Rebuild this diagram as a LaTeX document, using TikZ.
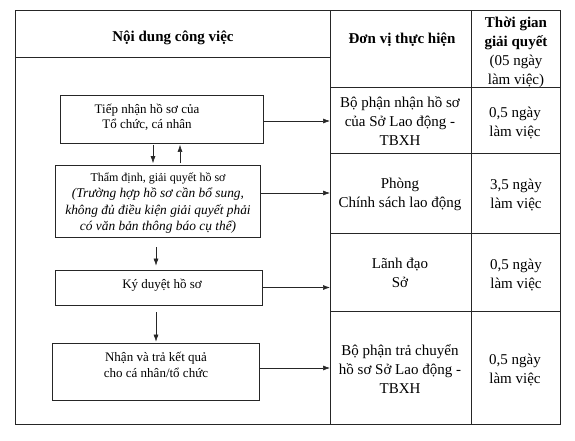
\documentclass[tikz,border=0pt]{standalone}
\usepackage{fontspec}
\setmainfont{Liberation Serif}
\usetikzlibrary{arrows.meta}
\begin{document}
\begin{tikzpicture}[x=1pt,y=-1pt,
  grid/.style={draw=black!85, line width=0.7pt},
  box/.style={draw=black!85, line width=0.7pt, rectangle, inner sep=0pt},
  arr/.style={draw=black!85, line width=0.6pt, -{Latex[length=7pt,width=5pt]}},
  head/.style={align=center, inner sep=0pt, font=\fontsize{15}{19}\selectfont\bfseries},
  cell/.style={align=center, inner sep=0pt, font=\fontsize{15}{19}\selectfont},
  btext/.style={align=center, inner sep=0pt, font=\fontsize{13}{15.5}\selectfont}]
\useasboundingbox (0,0) rectangle (575,440);
\fill[white] (0,0) rectangle (575,440);

% table grid
\draw[grid] (15,10) rectangle (560,424);
\draw[grid] (330,10) -- (330,424);
\draw[grid] (471,10) -- (471,424);
\draw[grid] (15,57) -- (330,57);
\draw[grid] (330,87) -- (560,87);
\draw[grid] (330,153) -- (560,153);
\draw[grid] (330,233) -- (560,233);
\draw[grid] (330,311) -- (560,311);

% headers
\node[head] (h1) at (173,38) {Nội dung công việc};
\node[head] (h2) at (402,40) {Đơn vị thực hiện};
\node[cell] (h3) at (516,52) {\textbf{Thời gian}\\\textbf{giải quyết}\\(05 ngày\\làm việc)};

% cells
\node[cell] (c21) at (400,121) {Bộ phận nhận hồ sơ\\của Sở Lao động -\\TBXH};
\node[cell] (c31) at (515,123) {0,5 ngày\\làm việc};
\node[cell] (c22) at (400,194) {Phòng\\Chính sách lao động};
\node[cell] (c32) at (516,195) {3,5 ngày\\làm việc};
\node[cell] (c23) at (400,273) {Lãnh đạo\\Sở};
\node[cell] (c33) at (516,275) {0,5 ngày\\làm việc};
\node[cell] (c24) at (400,369) {Bộ phận trả chuyển\\hồ sơ Sở Lao động -\\TBXH};
\node[cell] (c34) at (515,370) {0,5 ngày\\làm việc};

% process boxes
\node[box, minimum width=203pt, minimum height=48pt] (b1) at (161.5,119) {};
\node[box, minimum width=205pt, minimum height=72pt] (b2) at (157.5,201) {};
\node[box, minimum width=207pt, minimum height=35pt] (b3) at (158.5,287.5) {};
\node[box, minimum width=207pt, minimum height=57pt] (b4) at (155.5,371.5) {};

\node[btext] (t1) at (147,117.5) {Tiếp nhận hồ sơ của\\Tổ chức, cá nhân};
\node[btext, font=\fontsize{12}{16.3}\selectfont] (t2) at (158,203) {Thẩm định, giải quyết hồ sơ\\{\fontsize{13.4}{16.3}\selectfont\itshape (Trường hợp hồ sơ cần bổ sung,}\\{\fontsize{13.4}{16.3}\selectfont\itshape không đủ điều kiện giải quyết phải}\\{\fontsize{13.4}{16.3}\selectfont\itshape có văn bản thông báo cụ thể)}};
\node[btext] (t3) at (162,285) {Ký duyệt hồ sơ};
\node[btext] (t4) at (156,365) {Nhận và trả kết quả\\cho cá nhân/tổ chức};

% helper coordinates
\coordinate (d1) at (330,0);
\coordinate (v1) at (153,0);
\coordinate (v2) at (180,0);
\coordinate (v3) at (156,0);

% arrows to the right
\draw[arr] ([yshift=-2pt]b1.east) -- ([yshift=-2pt]b1.east -| d1);
\draw[arr] ([yshift=8pt]b2.east) -- ([yshift=8pt]b2.east -| d1);
\draw[arr] (b3.east) -- (b3.east -| d1);
\draw[arr] ([yshift=3.5pt]b4.east) -- ([yshift=3.5pt]b4.east -| d1);

% vertical arrows
\draw[arr, shorten <=1.5pt, shorten >=1.5pt] (b1.south -| v1) -- (b2.north -| v1);
\draw[arr, shorten <=1.5pt, shorten >=1.5pt] (b2.north -| v2) -- (b1.south -| v2);
\draw[arr, shorten <=10pt, shorten >=4pt] (b2.south -| v3) -- (b3.north -| v3);
\draw[arr, shorten <=7pt, shorten >=1pt] (b3.south -| v3) -- (b4.north -| v3);
\end{tikzpicture}
\end{document}
